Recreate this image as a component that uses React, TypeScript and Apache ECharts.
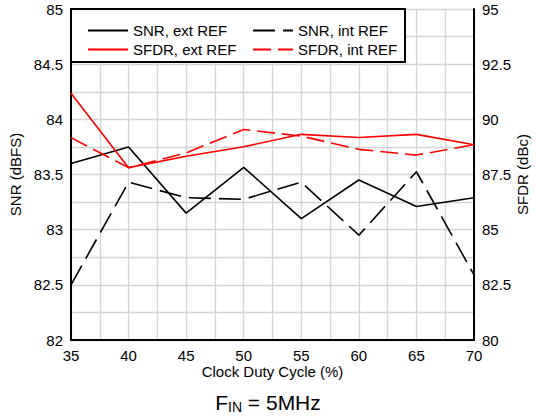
import React, { useEffect, useRef } from "react";
import * as echarts from "echarts";

const dutyCycle = [35, 40, 45, 50, 55, 60, 65, 70];
const snrExt = [83.6, 83.75, 83.15, 83.565, 83.1, 83.45, 83.21, 83.29];
const snrInt = [82.5, 83.43, 83.29, 83.275, 83.43, 82.95, 83.525, 82.59];
const sfdrExt = [91.18, 87.81, 88.33, 88.76, 89.32, 89.18, 89.32, 88.85];
const sfdrInt = [89.17, 87.81, 88.48, 89.54, 89.24, 88.64, 88.38, 88.85];

const FONT = "Liberation Sans";

export default function App() {
  const ref = useRef<HTMLDivElement>(null);
  useEffect(() => {
    if (!ref.current) return;
    const chart = echarts.init(ref.current, undefined, { renderer: "svg" });
    const mk = (arr: number[]) => dutyCycle.map((x, i) => [x, arr[i]]);
    const axisLabel = { color: "#000", fontSize: 15, fontFamily: FONT };
    const grid = { left: 71, right: 62, top: 9, bottom: 80, outerBoundsMode: "none", containLabel: false };
    const legendCommon = {
      top: 18,
      orient: "vertical",
      itemWidth: 40,
      itemHeight: 14,
      itemGap: 4,
      z: 10,
      itemStyle: { opacity: 0 },
      textStyle: { color: "#000", fontSize: 15, fontFamily: FONT },
    };
    chart.setOption({
      animation: false,
      textStyle: { fontFamily: FONT },
      grid,
      xAxis: {
        type: "value",
        min: 35,
        max: 70,
        interval: 5,
        name: "Clock Duty Cycle (%)",
        nameLocation: "middle",
        nameGap: 24,
        nameMoveOverlap: false,
        nameTextStyle: { color: "#000", fontSize: 15, fontFamily: FONT },
        axisLine: { lineStyle: { color: "#000", width: 2 } },
        axisTick: { show: false },
        axisLabel: { ...axisLabel, margin: 8 },
        splitLine: { show: true, lineStyle: { color: "#d4d4d4", width: 1.3 } },
        minorTick: { show: false, splitNumber: 2 },
        minorSplitLine: { show: true, lineStyle: { color: "#d4d4d4", width: 1.3 } },
      },
      yAxis: [
        {
          type: "value",
          min: 82,
          max: 85,
          interval: 0.5,
          name: "SNR (dBFS)",
          nameLocation: "middle",
          nameGap: 48,
          nameMoveOverlap: false,
          nameTextStyle: { color: "#000", fontSize: 15, fontFamily: FONT },
          axisLine: { show: true, lineStyle: { color: "#000", width: 2 } },
          axisTick: { show: false },
          axisLabel: { ...axisLabel, margin: 8 },
          splitLine: { show: true, lineStyle: { color: "#d4d4d4", width: 1.3 } },
          minorTick: { show: false, splitNumber: 2 },
          minorSplitLine: { show: true, lineStyle: { color: "#d4d4d4", width: 1.3 } },
        },
        {
          type: "value",
          min: 80,
          max: 95,
          interval: 2.5,
          name: "SFDR (dBc)",
          nameLocation: "middle",
          nameGap: 41,
          nameRotate: 90,
          nameMoveOverlap: false,
          nameTextStyle: { color: "#000", fontSize: 15, fontFamily: FONT },
          axisLine: { show: true, lineStyle: { color: "#000", width: 2 } },
          axisTick: { show: false },
          axisLabel: { ...axisLabel, margin: 8 },
          splitLine: { show: false },
        },
      ],
      legend: [
        { ...legendCommon, left: 82, data: ["SNR, ext REF", "SFDR, ext REF"] },
        { ...legendCommon, left: 247, data: ["SNR, int REF", "SFDR, int REF"] },
      ],
      graphic: [
        {
          type: "rect",
          z: 5,
          shape: { x: 71, y: 9, width: 334, height: 53 },
          style: { fill: "#fff", stroke: "#000", lineWidth: 2 },
        },
        {
          type: "text",
          left: "center",
          top: 390,
          z: 10,
          style: {
            text: "{a|F}{s|IN}{a| = 5MHz}",
            rich: {
              a: { fontSize: 21, fontFamily: FONT, fill: "#000", lineHeight: 26 },
              s: { fontSize: 14, fontFamily: FONT, fill: "#000", padding: [10, 0, 0, 0], lineHeight: 26 },
            },
          },
        },
      ],
      series: [
        {
          name: "SNR, ext REF",
          type: "line",
          yAxisIndex: 0,
          symbol: "none",
          data: mk(snrExt),
          lineStyle: { color: "#000", width: 1.6, type: "solid" },
          itemStyle: { color: "#000" },
        },
        {
          name: "SNR, int REF",
          type: "line",
          yAxisIndex: 0,
          symbol: "none",
          data: mk(snrInt),
          lineStyle: { color: "#000", width: 1.6, type: [22, 8] },
          itemStyle: { color: "#000" },
        },
        {
          name: "SFDR, ext REF",
          type: "line",
          yAxisIndex: 1,
          symbol: "none",
          data: mk(sfdrExt),
          lineStyle: { color: "#ff0000", width: 1.6, type: "solid" },
          itemStyle: { color: "#ff0000" },
        },
        {
          name: "SFDR, int REF",
          type: "line",
          yAxisIndex: 1,
          symbol: "none",
          data: mk(sfdrInt),
          lineStyle: { color: "#ff0000", width: 1.6, type: [18, 7] },
          itemStyle: { color: "#ff0000" },
        },
      ],
    });
    return () => chart.dispose();
  }, []);
  return <div ref={ref} style={{ width: 536, height: 420, position: "absolute", left: 0, top: 0, background: "#fff" }} />;
}
